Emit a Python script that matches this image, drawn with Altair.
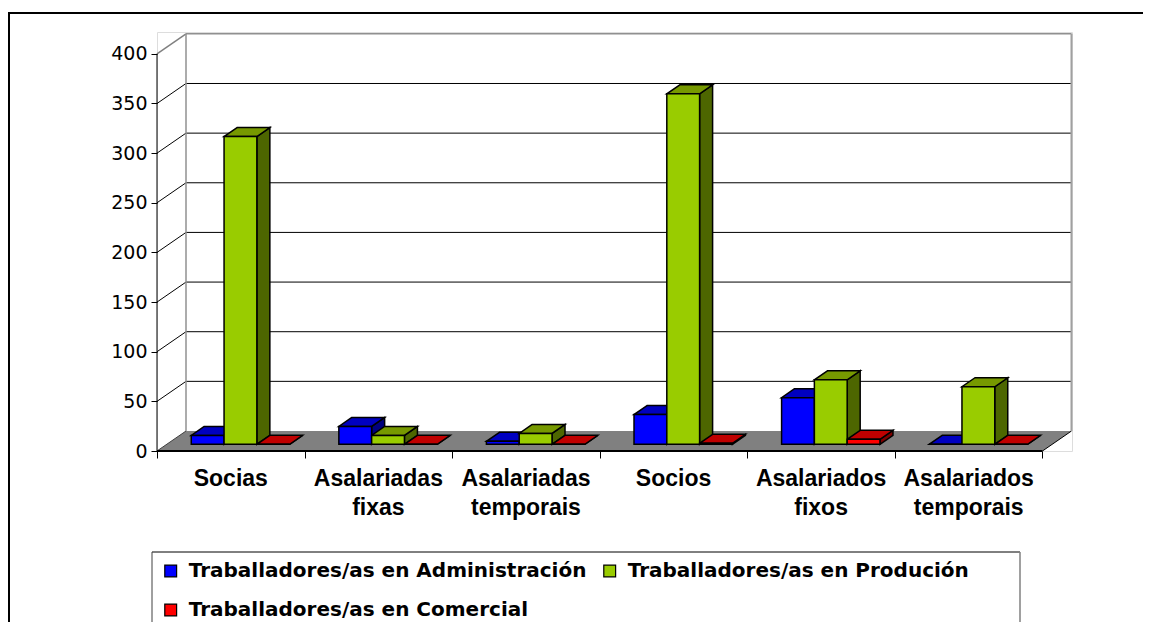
import altair as alt
import pandas as pd

# ---------------- data ----------------
categories = ["Socias", "Asalariadas fixas", "Asalariadas temporais",
              "Socios", "Asalariados fixos", "Asalariados temporais"]
category_labels = ["Socias", "Asalariadas\nfixas", "Asalariadas\ntemporais",
                   "Socios", "Asalariados\nfixos", "Asalariados\ntemporais"]
series = ["Traballadores/as en Administración",
          "Traballadores/as en Produción",
          "Traballadores/as en Comercial"]
administracion = [9, 18, 3, 30, 47, 0]
producion = [310, 9, 11, 353, 65, 58]
comercial = [0, 0, 0, 1, 5, 0]
y_ticks = [0, 50, 100, 150, 200, 250, 300, 350, 400]

front_colors = ["#0000FF", "#99CC00", "#FF0000"]
top_colors = ["#0000C0", "#779900", "#C00000"]
side_colors = ["#000080", "#4D6600", "#800000"]

# ---------------- geometry (data units) ----------------
W, H = 915, 419
XMAX, YMAX = 6.2, 422
PXX, PXY = W / XMAX, H / YMAX
DX, DY = 29 / PXX, 20 / PXY          # wall depth
FX, FY = DX / 3, DY / 3              # bar front-face offset
BX, BY = 13 / PXX, 9 / PXY           # bar depth
BW = 2 / 9                           # bar width
N = len(categories)

values = [administracion, producion, comercial]
front_rows, side_rows, top_rows = [], [], []
bid = 0
for i in range(N):
    for k in range(3):
        v = values[k][i]
        x0 = i + 1 / 6 + k * BW + FX
        x1 = x0 + BW
        front_rows.append(dict(id=bid, series=series[k], x0=x0, x1=x1, y0=FY, y1=FY + v))
        side_rows += [dict(id=bid, x=x1, lo=FY, hi=FY + v, c=side_colors[k]),
                      dict(id=bid, x=x1 + BX, lo=FY + BY, hi=FY + BY + v, c=side_colors[k])]
        top_rows += [dict(id=bid, y=FY + v, xl=x0, xr=x1, c=top_colors[k]),
                     dict(id=bid, y=FY + v + BY, xl=x0 + BX, xr=x1 + BX, c=top_colors[k])]
        bid += 1

front_df = pd.DataFrame(front_rows)
side_df = pd.DataFrame(side_rows)
top_df = pd.DataFrame(top_rows)

floor_df = pd.DataFrame([dict(y=0, xl=0, xr=N), dict(y=DY, xl=DX, xr=N + DX)])

segs = []
for v in y_ticks[1:-1]:
    segs.append(dict(x=DX, x2=N + DX, y=v + DY, y2=v + DY, c="#000000", w=1))
    segs.append(dict(x=0, x2=DX, y=v, y2=v + DY, c="#000000", w=1))
top = y_ticks[-1]
segs += [
    dict(x=0, x2=DX, y=0, y2=DY, c="#404040", w=1),
    dict(x=N, x2=N + DX, y=0, y2=DY, c="#000000", w=1),
    dict(x=0, x2=DX, y=top, y2=top + DY, c="#808080", w=1.5),
    dict(x=DX, x2=N + DX, y=top + DY, y2=top + DY, c="#909090", w=1.5),
    dict(x=DX, x2=DX, y=DY, y2=top + DY, c="#909090", w=1.5),
    dict(x=N + DX, x2=N + DX, y=DY, y2=top + DY, c="#A0A0A0", w=2),
]
seg_df = pd.DataFrame(segs)
axis_df = pd.DataFrame([dict(x=0, x2=0, y=0, y2=top, w=1),
                        dict(x=0, x2=N, y=0, y2=0, w=2)])
label_df = pd.DataFrame(dict(x=[i + 0.5 for i in range(N)], label=category_labels))

xs = alt.Scale(domain=[0, XMAX], nice=False, zero=False)
ys = alt.Scale(domain=[0, YMAX], nice=False, zero=False)
xa = alt.Axis(values=list(range(N + 1)), labels=False, domain=False, grid=False,
              ticks=True, tickColor="black", tickSize=7, tickWidth=1, title=None)
ya = alt.Axis(values=y_ticks, domain=False, grid=False, ticks=True,
              tickColor="black", tickSize=6, tickWidth=1, title=None,
              labelFont="DejaVu Sans", labelFontSize=19, labelColor="black",
              labelPadding=4)
one = pd.DataFrame({"a": [0]})

floor = alt.Chart(floor_df).mark_area(orient="horizontal", color="#808080").encode(
    y=alt.Y("y:Q", scale=ys, axis=ya, stack=None),
    x=alt.X("xl:Q", scale=xs, axis=xa, stack=None), x2="xr:Q")

grid = alt.Chart(seg_df).mark_rule().encode(
    x=alt.X("x:Q", scale=xs, axis=xa), x2="x2:Q",
    y=alt.Y("y:Q", scale=ys, axis=ya), y2="y2:Q",
    color=alt.Color("c:N", scale=None),
    strokeWidth=alt.StrokeWidth("w:Q", scale=None))

sides = alt.Chart(side_df).mark_area(orient="vertical", stroke="black", strokeWidth=1.5,
                                     strokeJoin="miter").encode(
    x=alt.X("x:Q", scale=xs, axis=xa, stack=None),
    y=alt.Y("lo:Q", scale=ys, axis=ya, stack=None), y2="hi:Q",
    fill=alt.Fill("c:N", scale=None), detail="id:N")

tops = alt.Chart(top_df).mark_area(orient="horizontal", stroke="black", strokeWidth=1.5,
                                   strokeJoin="miter").encode(
    y=alt.Y("y:Q", scale=ys, axis=ya, stack=None),
    x=alt.X("xl:Q", scale=xs, axis=xa, stack=None), x2="xr:Q",
    fill=alt.Fill("c:N", scale=None), detail="id:N")

fronts = alt.Chart(front_df).mark_rect(stroke="black", strokeWidth=1.5).encode(
    x=alt.X("x0:Q", scale=xs, axis=xa), x2="x1:Q",
    y=alt.Y("y0:Q", scale=ys, axis=ya), y2="y1:Q",
    color=alt.Color("series:N", scale=alt.Scale(domain=series, range=front_colors),
                    legend=alt.Legend(orient="none", legendX=3.7, legendY=529,
                                      direction="horizontal", columns=2, title=None,
                                      symbolType="square", symbolSize=140,
                                      symbolStrokeColor="black", symbolStrokeWidth=1.2,
                                      labelFont="DejaVu Sans", labelFontSize=20,
                                      labelFontWeight="bold", labelColor="black",
                                      labelOffset=8, columnPadding=13, rowPadding=19,
                                      padding=0, labelLimit=1000)))

axes = alt.Chart(axis_df).mark_rule(color="black").encode(
    x=alt.X("x:Q", scale=xs, axis=xa), x2="x2:Q",
    y=alt.Y("y:Q", scale=ys, axis=ya), y2="y2:Q",
    strokeWidth=alt.StrokeWidth("w:Q", scale=None))

labels = alt.Chart(label_df).mark_text(
    font="Liberation Sans", fontSize=23, fontWeight="bold", color="black",
    align="center", baseline="alphabetic", dy=35, lineBreak="\n", lineHeight=28.5
).encode(x=alt.X("x:Q", scale=xs, axis=xa), y=alt.value(H), text="label:N")

frame_top = alt.Chart(one).mark_rule(color="black", strokeWidth=2).encode(
    x=alt.value(-149), x2=alt.value(986), y=alt.value(-19))
frame_left = alt.Chart(one).mark_rule(color="black", strokeWidth=2).encode(
    x=alt.value(-148), y=alt.value(-20), y2=alt.value(600))
leg_top = alt.Chart(one).mark_rule(color="black", strokeWidth=1).encode(
    x=alt.value(-5), x2=alt.value(863), y=alt.value(520))
leg_left = alt.Chart(one).mark_rule(color="#404040", strokeWidth=1).encode(
    x=alt.value(-5), y=alt.value(520), y2=alt.value(600))
leg_right = alt.Chart(one).mark_rule(color="#808080", strokeWidth=1.5).encode(
    x=alt.value(863), y=alt.value(520), y2=alt.value(600))

chart = alt.layer(floor, grid, sides, tops, fronts, axes, labels,
                  frame_top, frame_left, leg_top, leg_left, leg_right).properties(
    width=W, height=H,
    autosize=alt.AutoSizeParams(type="none"),
    padding={"left": 149, "top": 24, "right": 71, "bottom": 171},
).configure_view(stroke=None).configure(background="white")

chart.save("out.html", embed_options={"renderer": "svg", "actions": False})
